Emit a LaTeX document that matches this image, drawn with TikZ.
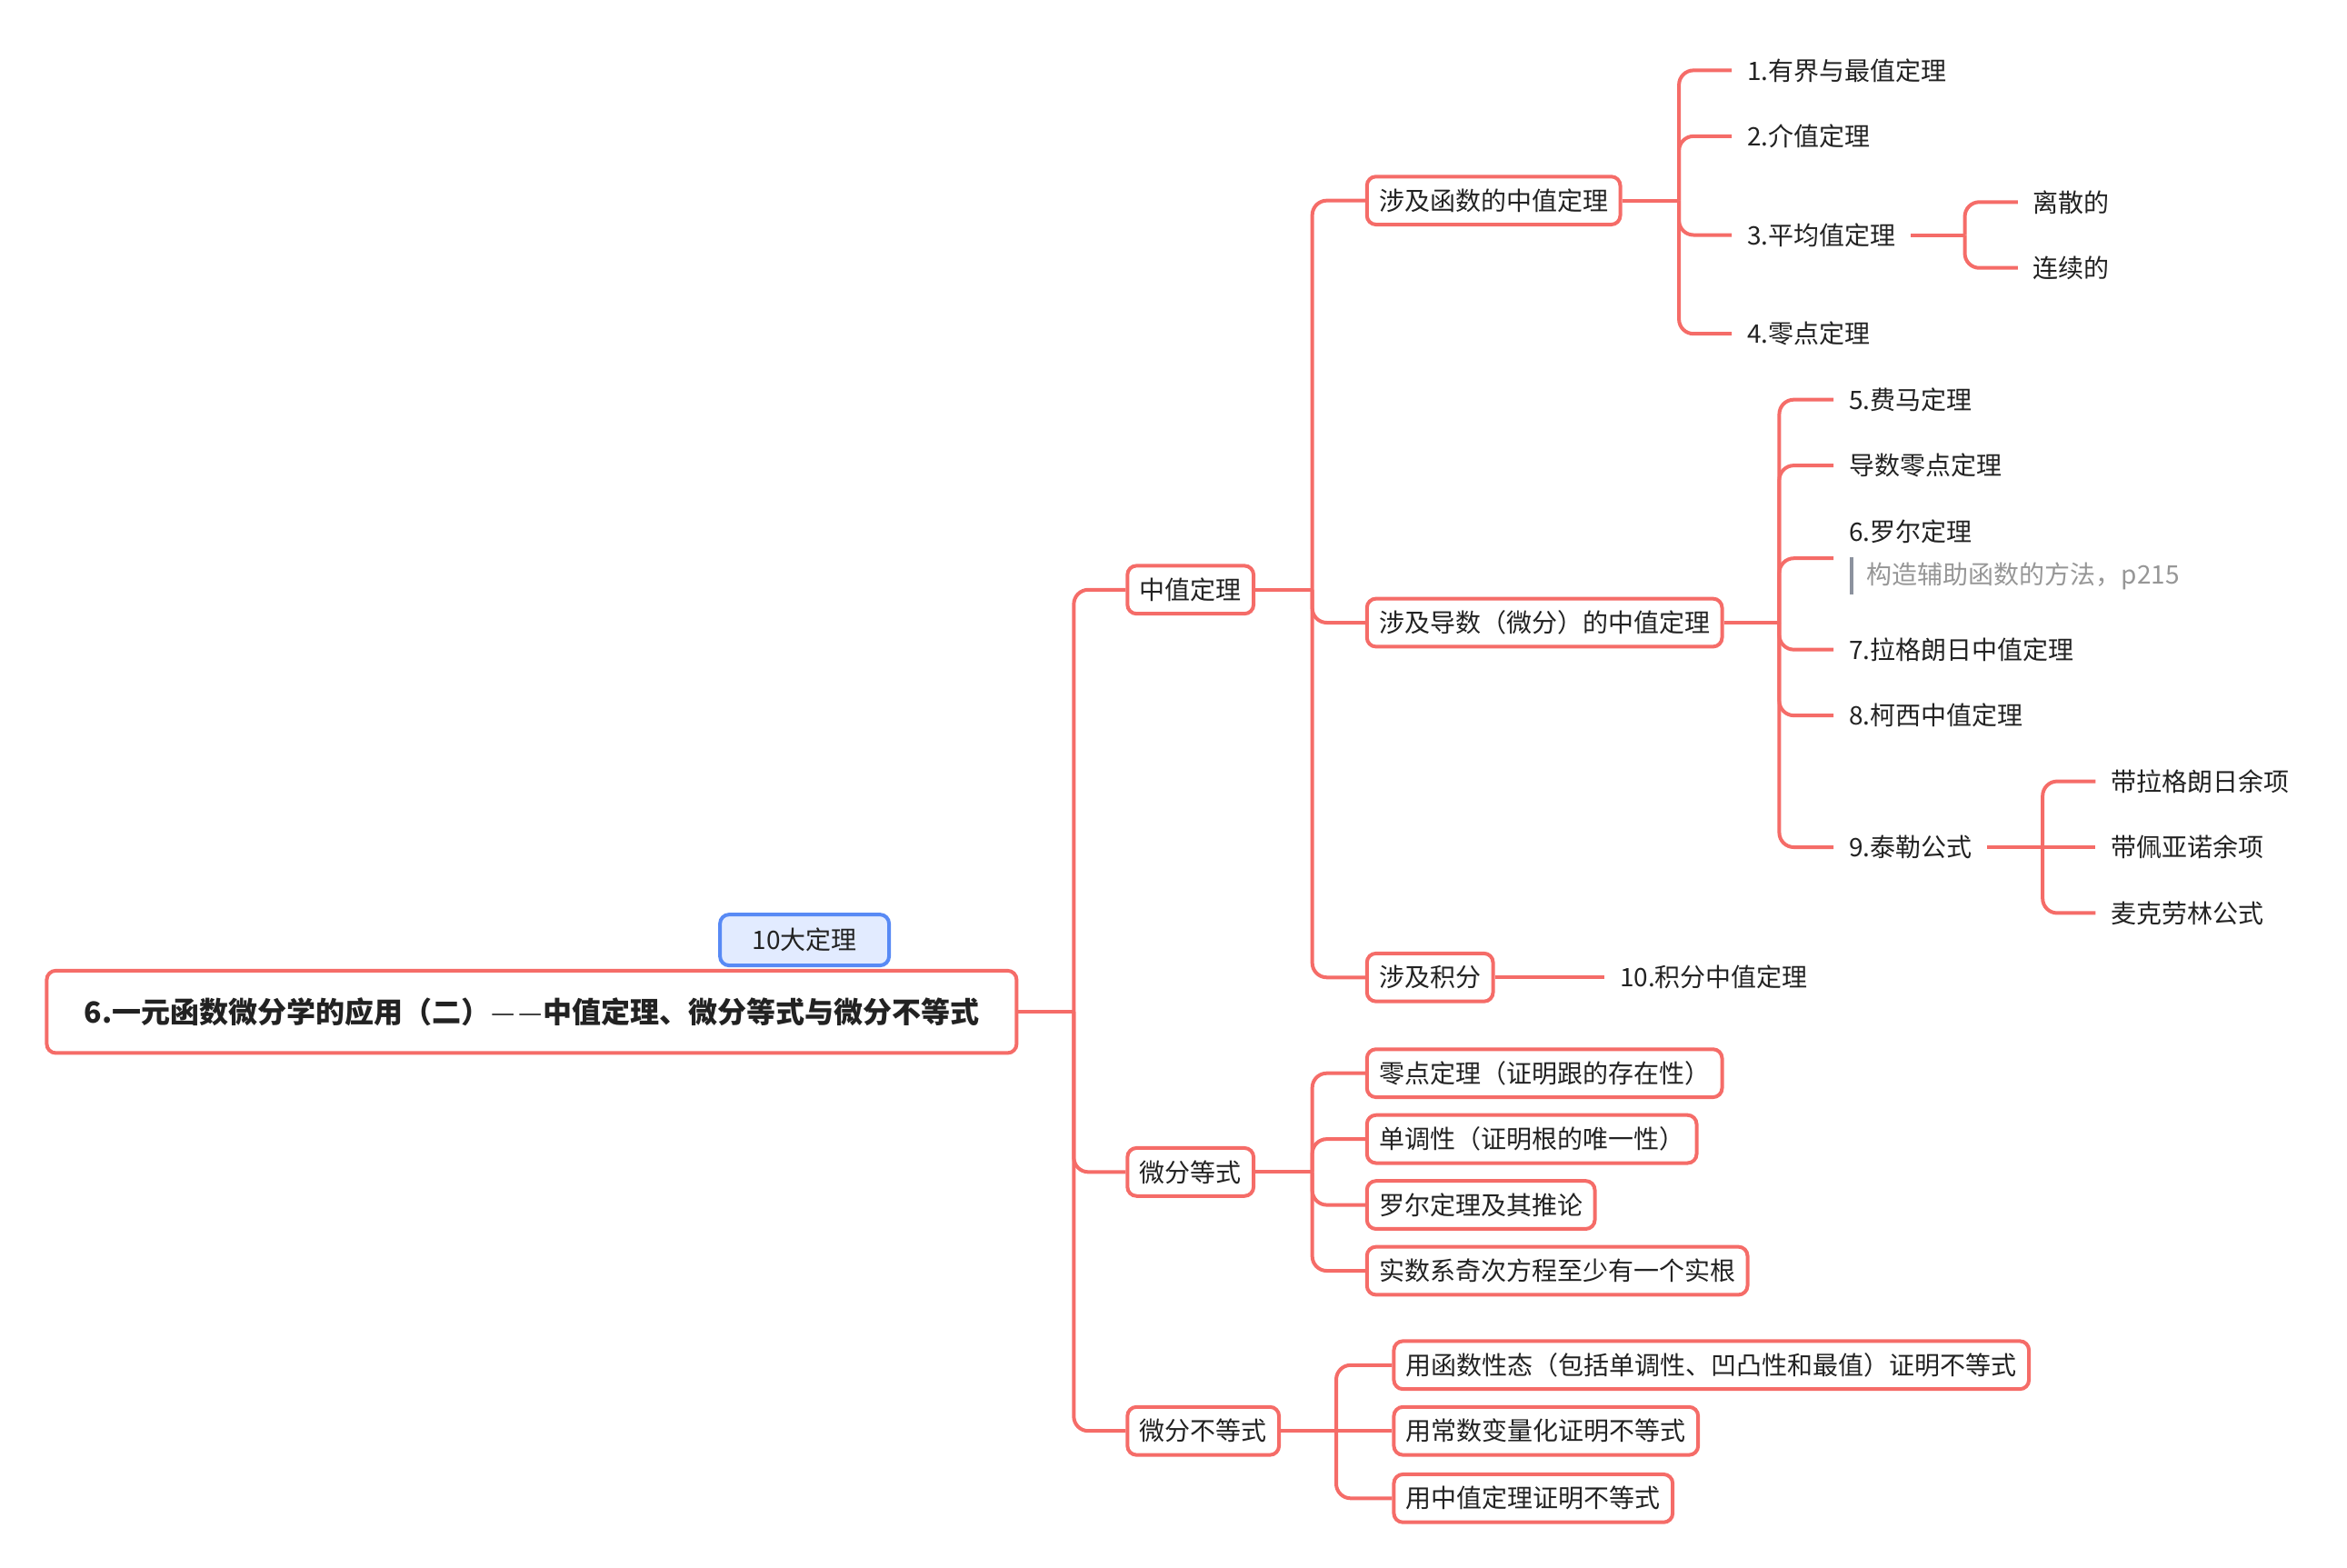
\documentclass[tikz,border=0pt]{standalone}
\usepackage{fontspec}
\usepackage{graphicx}
\setmainfont{Noto Sans CJK SC}
\usetikzlibrary{calc}
\definecolor{lnc}{RGB}{245,108,104}
\definecolor{txt}{RGB}{34,34,34}
\definecolor{notec}{RGB}{150,150,150}
\definecolor{barc}{RGB}{140,146,158}
\definecolor{tagfill}{RGB}{226,235,255}
\definecolor{tagline}{RGB}{88,138,245}
\newcommand{\thindash}{\scalebox{0.92}[1]{—}}
\tikzset{
  conn/.style={draw=lnc, line width=2pt, rounded corners=8pt},
  boxn/.style={draw=lnc, line width=2pt, fill=white, rounded corners=5pt, anchor=west,
    inner xsep=6.7pt, inner ysep=0pt, minimum height=26.4pt,
    font=\fontsize{14}{17}\selectfont, text=txt},
  leaf/.style={anchor=west, inner xsep=8.24pt, inner ysep=3pt,
    font=\fontsize{14}{17}\selectfont, text=txt},
  rootn/.style={draw=lnc, line width=2pt, fill=white, rounded corners=5pt, anchor=west,
    minimum width=533.6pt, minimum height=45.3pt, inner sep=0pt,
    font=\fontsize{16}{19}\selectfont\bfseries, text=txt},
  tagn/.style={draw=tagline, fill=tagfill, line width=2pt, rounded corners=5pt,
    minimum width=93pt, minimum height=28pt, inner sep=0pt,
    font=\fontsize{14}{17}\selectfont, text=txt},
  noten/.style={anchor=west, inner sep=0pt, font=\fontsize{14}{17}\selectfont, text=notec},
}
\begin{document}
\begin{tikzpicture}[x=0.8235pt,y=-0.8235pt]
\useasboundingbox (0,0) rectangle (1568,1047);

% root
\node[rootn] (root) at (30,676) {6.一元函数微分学的应用（二）{\mdseries\textcolor{txt!85}{\hspace{0.05em}\thindash\hspace{0.12em}\thindash}}中值定理、微分等式与微分不等式};
\node[tagn] (tag) at (537.5,628) {10大定理};

% level 1
\node[boxn] (zz) at (752,394) {中值定理};
\node[boxn] (wd) at (752,783) {微分等式};
\node[boxn] (wb) at (752,956) {微分不等式};

% level 2
\node[boxn] (hs) at (912,134) {涉及函数的中值定理};
\node[boxn] (ds) at (912,416) {涉及导数（微分）的中值定理};
\node[boxn] (jf) at (912,653) {涉及积分};
\node[boxn] (w1) at (912,717) {零点定理（证明跟的存在性）};
\node[boxn] (w2) at (912,761) {单调性（证明根的唯一性）};
\node[boxn] (w3) at (912,805) {罗尔定理及其推论};
\node[boxn] (w4) at (912,849) {实数系奇次方程至少有一个实根};
\node[boxn] (b1) at (930,912) {用函数性态（包括单调性、凹凸性和最值）证明不等式};
\node[boxn] (b2) at (930,956) {用常数变量化证明不等式};
\node[boxn] (b3) at (930,1001) {用中值定理证明不等式};

% leaves
\node[leaf] (t1) at (1157,47) {1.有界与最值定理};
\node[leaf] (t2) at (1157,91) {2.介值定理};
\node[leaf] (t3) at (1157,157) {3.平均值定理};
\node[leaf] (t4) at (1157,223) {4.零点定理};
\node[leaf] (d1) at (1348,135) {离散的};
\node[leaf] (d2) at (1348,179) {连续的};
\node[leaf] (t5) at (1225,267) {5.费马定理};
\node[leaf] (t5b) at (1225,311) {导数零点定理};
\node[leaf] (t6) at (1225,355) {6.罗尔定理};
\node[noten] (note) at (1247,385) {构造辅助函数的方法，p215};
\node[leaf] (t7) at (1225,434) {7.拉格朗日中值定理};
\node[leaf] (t8) at (1225,478) {8.柯西中值定理};
\node[leaf] (t9) at (1225,566) {9.泰勒公式};
\node[leaf] (e1) at (1400,522) {带拉格朗日余项};
\node[leaf] (e2) at (1400,566) {带佩亚诺余项};
\node[leaf] (e3) at (1400,610) {麦克劳林公式};
\node[leaf] (t10) at (1072,653) {10.积分中值定理};

\draw[barc, line width=2pt] ($(note.west)+(-10,-13)$) -- ($(note.west)+(-10,12)$);
\coordinate (t6in) at ($(t6.west)+(0,18)$);

% junctions
\coordinate (jR) at ($(root.east)+(37,0)$);
\coordinate (jZ) at ($(zz.east)+(38,0)$);
\coordinate (jH) at ($(hs.east)+(38,0)$);
\coordinate (jT3) at ($(t3.east)+(36,0)$);
\coordinate (jD) at ($(ds.east)+(37,0)$);
\coordinate (jT9) at ($(t9.east)+(37,0)$);
\coordinate (jW) at ($(wd.east)+(38,0)$);
\coordinate (jB) at ($(wb.east)+(37,0)$);

% connectors
\draw[conn] (root.east) -- (jR);
\foreach \c in {zz,wd,wb} \draw[conn] (jR) |- (\c.west);
\draw[conn] (zz.east) -- (jZ);
\foreach \c in {hs,ds,jf} \draw[conn] (jZ) |- (\c.west);
\draw[conn] (hs.east) -- (jH);
\foreach \c in {t1,t2,t3,t4} \draw[conn] (jH) |- (\c.west);
\draw[conn] (t3.east) -- (jT3);
\foreach \c in {d1,d2} \draw[conn] (jT3) |- (\c.west);
\draw[conn] (ds.east) -- (jD);
\foreach \c in {t5,t5b,t7,t8,t9} \draw[conn] (jD) |- (\c.west);
\draw[conn] (jD) |- (t6in);
\draw[conn] (t9.east) -- (jT9);
\foreach \c in {e1,e3} \draw[conn] (jT9) |- (\c.west);
\draw[conn] (jT9) -- (e2.west);
\draw[conn] (jf.east) -- (t10.west);
\draw[conn] (wd.east) -- (jW);
\foreach \c in {w1,w2,w3,w4} \draw[conn] (jW) |- (\c.west);
\draw[conn] (wb.east) -- (jB);
\foreach \c in {b1,b3} \draw[conn] (jB) |- (\c.west);
\draw[conn] (jB) -- (b2.west);
\end{tikzpicture}
\end{document}
